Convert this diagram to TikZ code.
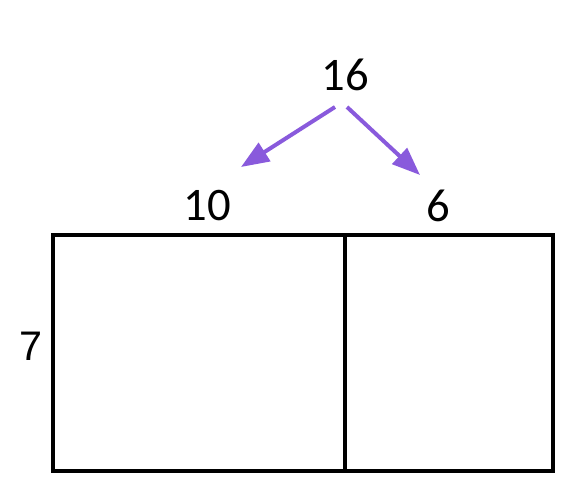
\documentclass[tikz,border=0pt]{standalone}
\usepackage{fontspec}
\setmainfont{Carlito}
\newfontfamily\sidefont{Liberation Sans}
\usetikzlibrary{arrows.meta}
\definecolor{splitpurple}{RGB}{137,90,220}
\begin{document}
\begin{tikzpicture}[x=0.75pt, y=-0.75pt, line width=3pt, num node/.style={inner sep=0pt,font=\fontsize{35}{40}\selectfont}, split arrow/.style={draw=splitpurple,line width=3pt,-{Triangle[length=21pt,width=16pt]}}]%
\useasboundingbox (0,0) rectangle (581,482);
\begin{scope}
\node[num node] (n16) at (345,75) {16};
\node[num node] (n10) at (207,206) {10};
\node[num node] (n6) at (438,206) {6};
\node[num node,font=\sidefont\fontsize{31}{36}\selectfont] (n7) at (31,346) {7};
\coordinate (tl) at (53,235);
\coordinate (tm) at (345,235);
\coordinate (tr) at (553,235);
\coordinate (bl) at (53,471);
\coordinate (bm) at (345,471);
\coordinate (br) at (553,471);
\coordinate (s1) at (335,107);
\coordinate (e1) at (241,167);
\coordinate (s2) at (347,107);
\coordinate (e2) at (420,175);
\end{scope}
\begin{scope}
\draw (tl) -- (tr) -- (br) -- (bl) -- cycle;
\draw (tm) -- (bm);
\draw[split arrow] (s1) -- (e1);
\draw[split arrow] (s2) -- (e2);
\end{scope}
\end{tikzpicture}
\end{document}
